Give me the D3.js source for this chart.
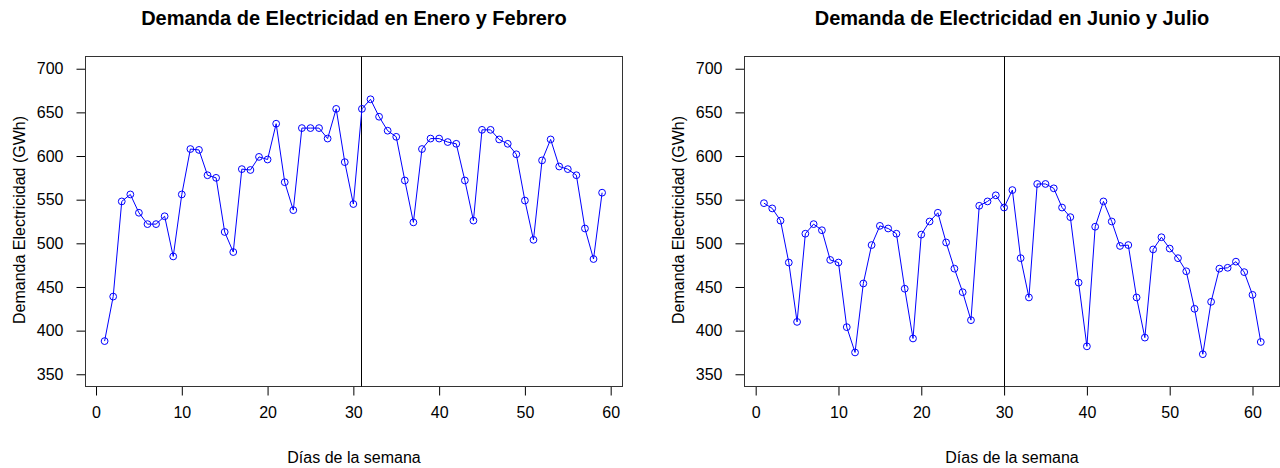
<!DOCTYPE html>
<html>
<head>
<meta charset="utf-8">
<script src="https://cdn.jsdelivr.net/npm/d3@7"></script>
<style>
  body { margin: 0; background: #fff; }
  text { font-family: "Liberation Sans", Arial, sans-serif; fill: #000; }
</style>
</head>
<body>
<div id="chart"></div>
<script>
// demanda diaria (GWh)
var eneroFebrero = [388, 439, 548, 556, 535, 522, 522, 531, 485, 556,
    608, 607, 578, 575, 513, 490, 585, 584, 599, 596,
    637, 570, 538, 632, 632, 632, 620, 654, 593, 545,
    654, 665, 645, 629, 622, 572, 524, 608, 620, 620,
    616, 614, 572, 526, 630, 630, 619, 614, 602, 549,
    504, 595, 619, 588, 585, 578, 517, 482, 558];

var junioJulio = [546, 540, 526, 478, 410, 511, 522, 515, 481, 478,
    404, 375, 454, 498, 520, 517, 511, 448, 391, 510,
    525, 535, 501, 471, 444, 412, 543, 548, 555, 541,
    561, 483, 438, 568, 568, 563, 541, 530, 455, 382,
    519, 548, 525, 497, 498, 438, 392, 493, 507, 494,
    483, 468, 425, 373, 433, 471, 472, 479, 467, 441, 387];

var titulos = ["Demanda de Electricidad en Enero y Febrero",
    "Demanda de Electricidad en Junio y Julio"];
var cortes = [31, 30]; // linea vertical: cambio de mes
var xTicks = [0, 10, 20, 30, 40, 50, 60];
var yTicks = [350, 400, 450, 500, 550, 600, 650, 700];

var width = 1280,
    height = 468;

var svg = d3.select('#chart').append('svg')
    .attr('width', width)
    .attr('height', height);

var plotTop = 56.5,
    plotBottom = 386.5;

// y comun a los dos paneles (ylim 350-700 con el 4% de R)
var y = d3.scaleLinear()
    .domain([336, 714])
    .range([plotBottom, plotTop]);

function panel(valores, titulo, corte, left, right, xDomain) {
    var g = svg.append('g');
    var x = d3.scaleLinear()
        .domain(xDomain)
        .range([left, right]);

    var datos = valores.map(function(v, i) {
        return { dia: i + 1, valor: v };
    });

    var bx0 = Math.round(left) + 0.5,
        bx1 = Math.round(right) + 0.5;

    // ejes
    g.append('g')
        .attr('transform', 'translate(' + bx0 + ',0)')
        .call(d3.axisLeft(y).tickValues(yTicks).tickSize(9).tickPadding(13))
        .call(function(a) { a.select('.domain').remove(); })
        .selectAll('text')
        .style('font-size', '16px')
        .style('font-family', '"Liberation Sans", Arial, sans-serif')
        .attr('fill', '#111');

    g.append('g')
        .attr('transform', 'translate(0,' + plotBottom + ')')
        .call(d3.axisBottom(x).tickValues(xTicks).tickSize(9).tickPadding(11))
        .call(function(a) { a.select('.domain').remove(); })
        .selectAll('text')
        .style('font-size', '16px')
        .style('font-family', '"Liberation Sans", Arial, sans-serif')
        .attr('fill', '#111');

    g.selectAll('.tick line').attr('stroke', '#000');

    // caja
    g.append('rect')
        .attr('x', bx0)
        .attr('y', plotTop)
        .attr('width', bx1 - bx0)
        .attr('height', plotBottom - plotTop)
        .style('fill', 'none')
        .style('stroke', '#333')
        .style('stroke-width', 1);

    // linea vertical
    var xc = Math.floor(x(corte)) + 0.5;
    g.append('line')
        .attr('x1', xc)
        .attr('x2', xc)
        .attr('y1', plotTop)
        .attr('y2', plotBottom)
        .style('stroke', '#000')
        .style('stroke-width', 1);

    var linea = d3.line()
        .x(function(d) { return x(d.dia); })
        .y(function(d) { return y(d.valor); });

    g.append('path')
        .datum(datos)
        .attr('d', linea)
        .style('fill', 'none')
        .style('stroke', 'blue')
        .style('stroke-width', 1);

    g.selectAll('circle')
        .data(datos)
        .enter()
        .append('circle')
        .attr('cx', function(d) { return x(d.dia); })
        .attr('cy', function(d) { return y(d.valor); })
        .attr('r', 3.4)
        .style('fill', 'none')
        .style('stroke', 'blue')
        .style('stroke-width', 1);

    // textos
    g.append('text')
        .attr('x', (bx0 + bx1) / 2)
        .attr('y', 25)
        .attr('text-anchor', 'middle')
        .style('font-size', '20px')
        .style('font-weight', 'bold')
        .text(titulo);

    g.append('text')
        .attr('x', (bx0 + bx1) / 2)
        .attr('y', 463)
        .attr('text-anchor', 'middle')
        .style('font-size', '16px')
        .attr('fill', '#111')
        .text('Días de la semana');

    g.append('text')
        .attr('transform', 'translate(' + (bx0 - 61) + ',' + 220 + ') rotate(-90)')
        .attr('text-anchor', 'middle')
        .style('font-size', '16px')
        .attr('fill', '#111')
        .text('Demanda Electricidad (GWh)');
}

panel(eneroFebrero, titulos[0], cortes[0], 84.7, 622, [-1.32, 61.32]);
panel(junioJulio, titulos[1], cortes[1], 744, 1279, [-1.41, 63.2]);
</script>
</body>
</html>
